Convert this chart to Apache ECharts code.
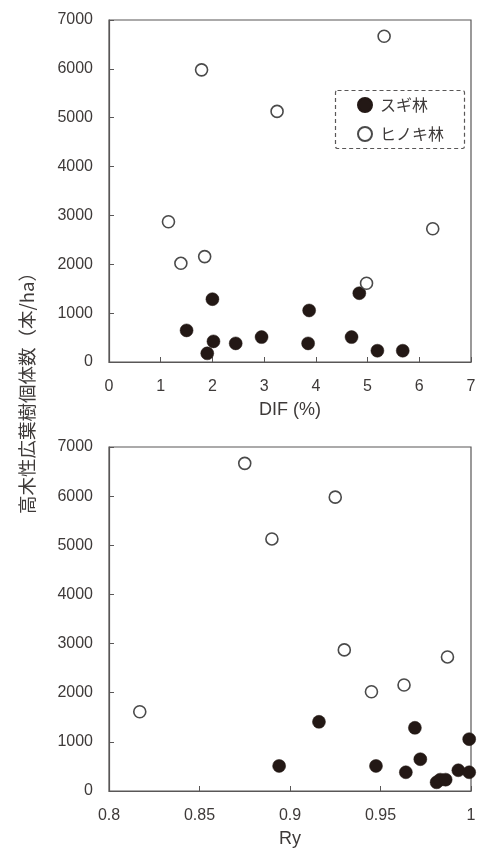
<!DOCTYPE html>
<html>
<head>
<meta charset="utf-8">
<style>html,body{margin:0;padding:0;background:#fff;}#c{width:480px;height:850px;}</style>
<script src="https://cdn.jsdelivr.net/npm/echarts@6/dist/echarts.min.js"></script>
</head>
<body>
<div id="c"></div>
<script>
// スギ林 (Sugi stands)
var sugiCount = [1286, 647, 422, 177, 381, 510, 381, 1055, 510, 1408, 231, 231];
var sugiDIF   = [2.00, 1.50, 2.02, 1.90, 2.45, 2.95, 3.85, 3.87, 4.69, 4.84, 5.19, 5.68];
var sugiRy    = [0.969, 0.972, 0.993, 0.981, 0.964, 0.894, 0.999, 0.999, 0.9475, 0.916, 0.983, 0.986];
// ヒノキ林 (Hinoki stands)
var hinoCount = [2871, 2020, 2157, 1612, 2728, 5980, 5129, 6667];
var hinoDIF   = [1.15, 1.39, 1.85, 4.98, 6.26, 1.79, 3.25, 5.32];
var hinoRy    = [0.930, 0.945, 0.963, 0.817, 0.987, 0.925, 0.890, 0.875];
// axis ticks
var yTicks = {min: 0, max: 7000, interval: 1000};
var difTicks = {min: 0, max: 7, interval: 1};
var ryTicks = {min: 0.8, max: 1, interval: 0.05};
var seriesNames = ['スギ林', 'ヒノキ林'];
var yTitle = '高木性広葉樹個体数（本/ha）';
var xTitles = ['DIF (%)', 'Ry'];

function pairs(xs, ys){ return xs.map(function(x,i){ return [x, ys[i]]; }); }

var axisColor = '#595757';
var textColor = '#3e3a39';
var numFont = 'Liberation Sans, Arial, sans-serif';
var jpFont = 'Noto Sans CJK JP, sans-serif';

function xAxisCfg(idx, t, name){
  return {
    gridIndex: idx, type: 'value', min: t.min, max: t.max, interval: t.interval,
    name: name, nameLocation: 'middle', nameGap: 39,
    nameTextStyle: {fontFamily: numFont, fontSize: 18, color: textColor},
    axisLine: {show: true, lineStyle: {color: axisColor, width: 1.2}},
    axisTick: {show: true, inside: true, length: 5, lineStyle: {color: axisColor}},
    axisLabel: {fontFamily: numFont, fontSize: 16, color: textColor, margin: 17},
    splitLine: {show: false}
  };
}
function yAxisCfg(idx){
  return {
    gridIndex: idx, type: 'value', min: yTicks.min, max: yTicks.max, interval: yTicks.interval,
    axisLine: {show: true, lineStyle: {color: axisColor, width: 1.2}},
    axisTick: {show: true, inside: true, length: 5, lineStyle: {color: axisColor}},
    axisLabel: {fontFamily: numFont, fontSize: 16, color: textColor, margin: 16,
                formatter: function(v){ return String(v); }},
    splitLine: {show: false}
  };
}
var filledStyle = {color: '#231815', borderColor: '#231815', borderWidth: 0.5, opacity: 1};
var openStyle = {color: '#ffffff', borderColor: '#4a4a4a', borderWidth: 1.6, opacity: 1};

var chart = echarts.init(document.getElementById('c'));
chart.setOption({
  animation: false,
  backgroundColor: '#fff',
  grid: [
    {left: 109, right: 9, top: 20, height: 342, show: true, borderColor: axisColor, borderWidth: 1.2},
    {left: 109, right: 9, top: 447, height: 344, show: true, borderColor: axisColor, borderWidth: 1.2}
  ],
  xAxis: [xAxisCfg(0, difTicks, xTitles[0]), xAxisCfg(1, ryTicks, xTitles[1])],
  yAxis: [yAxisCfg(0), yAxisCfg(1)],
  legend: {
    orient: 'vertical', left: 352, top: 92, itemWidth: 14, itemHeight: 14, itemGap: 13,
    icon: 'circle',
    data: seriesNames,
    textStyle: {fontFamily: jpFont, fontSize: 16, color: textColor, padding: [0,0,0,3]}
  },
  graphic: [
    {type: 'rect', left: 333, top: 88, z: 10, silent: true,
     shape: {width: 129, height: 58, r: 2},
     style: {fill: 'none', stroke: '#595757', lineWidth: 1.2, lineDash: [4, 3]}},
    {type: 'text', left: 18, top: 263, rotation: Math.PI/2, z: 10,
     style: {text: yTitle, font: '18.5px ' + jpFont, fill: textColor}}
  ],
  series: [
    {name: seriesNames[0], type: 'scatter', xAxisIndex: 0, yAxisIndex: 0, symbolSize: 13,
     itemStyle: filledStyle, data: pairs(sugiDIF, sugiCount), z: 3},
    {name: seriesNames[1], type: 'scatter', xAxisIndex: 0, yAxisIndex: 0, symbolSize: 12,
     itemStyle: openStyle, data: pairs(hinoDIF, hinoCount), z: 4},
    {name: seriesNames[0], type: 'scatter', xAxisIndex: 1, yAxisIndex: 1, symbolSize: 13,
     itemStyle: filledStyle, data: pairs(sugiRy, sugiCount), z: 3},
    {name: seriesNames[1], type: 'scatter', xAxisIndex: 1, yAxisIndex: 1, symbolSize: 12,
     itemStyle: openStyle, data: pairs(hinoRy, hinoCount), z: 4}
  ]
});
</script>
</body>
</html>
